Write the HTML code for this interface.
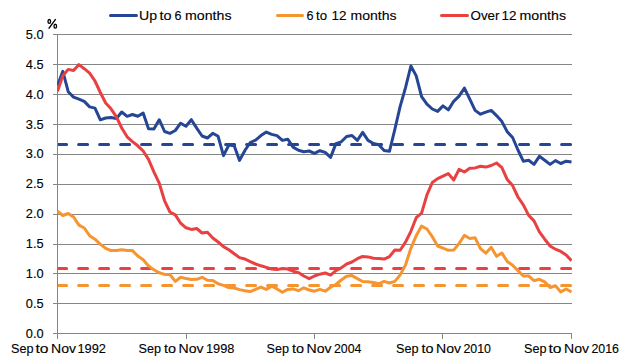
<!DOCTYPE html>
<html><head><meta charset="utf-8"><style>
html,body{margin:0;padding:0;background:#fff;width:622px;height:362px;overflow:hidden}
svg{display:block}
</style></head><body>
<svg width="622" height="362" viewBox="0 0 622 362">
<rect width="622" height="362" fill="#fff"/>
<line x1="53" y1="34.5" x2="572" y2="34.5" stroke="#868686" stroke-width="1"/>
<line x1="53" y1="64.5" x2="572" y2="64.5" stroke="#868686" stroke-width="1"/>
<line x1="53" y1="94.5" x2="572" y2="94.5" stroke="#868686" stroke-width="1"/>
<line x1="53" y1="124.5" x2="572" y2="124.5" stroke="#868686" stroke-width="1"/>
<line x1="53" y1="154.5" x2="572" y2="154.5" stroke="#868686" stroke-width="1"/>
<line x1="53" y1="184.5" x2="572" y2="184.5" stroke="#868686" stroke-width="1"/>
<line x1="53" y1="214.5" x2="572" y2="214.5" stroke="#868686" stroke-width="1"/>
<line x1="53" y1="244.5" x2="572" y2="244.5" stroke="#868686" stroke-width="1"/>
<line x1="53" y1="273.5" x2="572" y2="273.5" stroke="#868686" stroke-width="1"/>
<line x1="53" y1="303.5" x2="572" y2="303.5" stroke="#868686" stroke-width="1"/>
<line x1="53" y1="333.5" x2="572" y2="333.5" stroke="#868686" stroke-width="1"/>
<line x1="57.5" y1="34" x2="57.5" y2="339" stroke="#868686" stroke-width="1"/>
<line x1="57.5" y1="333" x2="57.5" y2="339" stroke="#868686" stroke-width="1"/>
<line x1="186.5" y1="333" x2="186.5" y2="339" stroke="#868686" stroke-width="1"/>
<line x1="314.5" y1="333" x2="314.5" y2="339" stroke="#868686" stroke-width="1"/>
<line x1="442.5" y1="333" x2="442.5" y2="339" stroke="#868686" stroke-width="1"/>
<line x1="571.5" y1="333" x2="571.5" y2="339" stroke="#868686" stroke-width="1"/>
<clipPath id="pc"><rect x="58" y="0" width="515" height="362"/></clipPath>
<line clip-path="url(#pc)" x1="57.6" y1="144.5" x2="572" y2="144.5" stroke="#254694" stroke-width="3" stroke-dasharray="9 12" stroke-linecap="round"/>
<line clip-path="url(#pc)" x1="57.6" y1="268.5" x2="572" y2="268.5" stroke="#E94042" stroke-width="3" stroke-dasharray="9 12" stroke-linecap="round"/>
<line clip-path="url(#pc)" x1="57.6" y1="285.5" x2="572" y2="285.5" stroke="#F69530" stroke-width="3" stroke-dasharray="9 12" stroke-linecap="round"/>
<clipPath id="pa"><rect x="57" y="0" width="514.9" height="362"/></clipPath>
<polyline clip-path="url(#pa)" points="57.50,85.5 62.85,71.3 68.21,91.7 73.56,97.1 78.92,99.2 84.27,101.4 89.62,106.9 94.98,108.1 100.33,119.8 105.69,118.0 111.04,117.5 116.40,118.5 121.75,112.0 127.10,116.3 132.46,114.5 137.81,116.2 143.17,113.1 148.52,128.8 153.88,129.0 159.23,119.7 164.58,131.5 169.94,133.3 175.29,130.5 180.65,123.2 186.00,126.2 191.35,119.7 196.71,128.1 202.06,136.0 207.42,138.0 212.77,133.3 218.12,136.3 223.48,155.6 228.83,145.0 234.19,145.7 239.54,160.4 244.90,150.5 250.25,142.5 255.60,140.1 260.96,135.6 266.31,132.1 271.67,134.4 277.02,135.6 282.38,140.4 287.73,139.2 293.08,147.1 298.44,150.3 303.79,151.7 309.15,151.0 314.50,153.3 319.85,150.7 325.21,152.4 330.56,157.4 335.92,143.6 341.27,141.8 346.62,136.5 351.98,135.5 357.33,140.4 362.69,132.4 368.04,140.4 373.40,143.5 378.75,144.8 384.10,150.6 389.46,151.3 394.81,129.5 400.17,106.3 405.52,87.7 410.88,66.0 416.23,75.9 421.58,96.6 426.94,104.2 432.29,109.0 437.65,111.4 443.00,105.9 448.35,109.9 453.71,101.3 459.06,96.2 464.42,88.1 469.77,99.2 475.12,110.4 480.48,114.2 485.83,112.1 491.19,110.4 496.54,115.6 501.90,121.6 507.25,131.7 512.60,137.5 517.96,150.0 523.31,161.2 528.67,160.2 534.02,164.4 539.38,156.3 544.73,160.2 550.08,164.4 555.44,160.6 560.79,163.5 566.15,161.2 571.50,162.1" fill="none" stroke="#254694" stroke-width="3" stroke-linejoin="round" stroke-linecap="butt"/>
<polyline clip-path="url(#pa)" points="57.50,211.2 62.85,215.5 68.21,213.5 73.56,217.0 78.92,225.1 84.27,228.0 89.62,235.7 94.98,239.2 100.33,244.4 105.69,248.3 111.04,250.6 116.40,250.6 121.75,249.7 127.10,250.6 132.46,250.6 137.81,256.0 143.17,259.8 148.52,265.9 153.88,269.8 159.23,272.8 164.58,274.4 169.94,274.6 175.29,281.4 180.65,277.3 186.00,278.6 191.35,279.4 196.71,279.3 202.06,277.3 207.42,280.2 212.77,280.5 218.12,283.8 223.48,285.4 228.83,287.6 234.19,288.0 239.54,289.6 244.90,290.7 250.25,291.6 255.60,289.4 260.96,287.1 266.31,289.4 271.67,286.2 277.02,288.9 282.38,292.3 287.73,289.4 293.08,288.9 298.44,290.7 303.79,287.8 309.15,290.0 314.50,291.2 319.85,289.4 325.21,291.2 330.56,287.2 335.92,284.5 341.27,280.0 346.62,276.2 351.98,275.6 357.33,278.6 362.69,281.5 368.04,281.8 373.40,282.5 378.75,283.8 384.10,281.4 389.46,283.0 394.81,281.4 400.17,274.9 405.52,265.0 410.88,248.3 416.23,235.7 421.58,226.1 426.94,229.0 432.29,236.7 437.65,246.0 443.00,248.2 448.35,250.3 453.71,250.1 459.06,243.5 464.42,235.4 469.77,238.5 475.12,237.8 480.48,248.7 485.83,253.2 491.19,247.3 496.54,256.3 501.90,253.0 507.25,261.5 512.60,265.2 517.96,270.6 523.31,276.0 528.67,276.0 534.02,280.6 539.38,279.3 544.73,281.9 550.08,287.5 555.44,285.8 560.79,291.9 566.15,289.0 571.50,291.9" fill="none" stroke="#F69530" stroke-width="3" stroke-linejoin="round" stroke-linecap="butt"/>
<polyline clip-path="url(#pa)" points="57.50,91.3 62.85,75.7 68.21,69.4 73.56,70.5 78.92,64.6 84.27,68.7 89.62,73.1 94.98,81.0 100.33,92.5 105.69,103.0 111.04,108.8 116.40,116.8 121.75,128.0 127.10,136.8 132.46,141.6 137.81,145.8 143.17,151.0 148.52,159.4 153.88,171.8 159.23,183.2 164.58,200.8 169.94,212.0 175.29,214.9 180.65,223.2 186.00,227.8 191.35,229.4 196.71,228.5 202.06,233.0 207.42,232.3 212.77,238.0 218.12,242.0 223.48,246.6 228.83,249.8 234.19,253.8 239.54,257.6 244.90,259.0 250.25,261.7 255.60,264.0 260.96,265.8 266.31,267.4 271.67,269.0 277.02,269.6 282.38,268.5 287.73,269.0 293.08,271.2 298.44,272.6 303.79,276.0 309.15,278.7 314.50,276.0 319.85,274.2 325.21,273.0 330.56,275.1 335.92,270.7 341.27,267.9 346.62,264.0 351.98,262.0 357.33,258.7 362.69,256.4 368.04,256.9 373.40,258.2 378.75,258.4 384.10,259.1 389.46,256.6 394.81,250.0 400.17,250.3 405.52,242.1 410.88,231.3 416.23,217.7 421.58,213.1 426.94,194.8 432.29,182.5 437.65,178.6 443.00,176.1 448.35,173.6 453.71,180.0 459.06,169.3 464.42,172.0 469.77,168.2 475.12,167.9 480.48,166.2 485.83,167.1 491.19,165.5 496.54,163.0 501.90,167.6 507.25,179.6 512.60,185.6 517.96,197.0 523.31,204.9 528.67,215.4 534.02,220.9 539.38,231.8 544.73,239.2 550.08,246.0 555.44,249.2 560.79,251.4 566.15,255.0 571.50,260.7" fill="none" stroke="#E94042" stroke-width="3" stroke-linejoin="round" stroke-linecap="butt"/>
<text x="43.6" y="38.80" text-anchor="end" textLength="17.8" lengthAdjust="spacingAndGlyphs" style="font-family:'Liberation Sans',sans-serif;font-size:12.8px" fill="#000" stroke="#000" stroke-width="0.12">5.0</text>
<text x="43.6" y="68.70" text-anchor="end" textLength="17.8" lengthAdjust="spacingAndGlyphs" style="font-family:'Liberation Sans',sans-serif;font-size:12.8px" fill="#000" stroke="#000" stroke-width="0.12">4.5</text>
<text x="43.6" y="98.60" text-anchor="end" textLength="17.8" lengthAdjust="spacingAndGlyphs" style="font-family:'Liberation Sans',sans-serif;font-size:12.8px" fill="#000" stroke="#000" stroke-width="0.12">4.0</text>
<text x="43.6" y="128.50" text-anchor="end" textLength="17.8" lengthAdjust="spacingAndGlyphs" style="font-family:'Liberation Sans',sans-serif;font-size:12.8px" fill="#000" stroke="#000" stroke-width="0.12">3.5</text>
<text x="43.6" y="158.40" text-anchor="end" textLength="17.8" lengthAdjust="spacingAndGlyphs" style="font-family:'Liberation Sans',sans-serif;font-size:12.8px" fill="#000" stroke="#000" stroke-width="0.12">3.0</text>
<text x="43.6" y="188.30" text-anchor="end" textLength="17.8" lengthAdjust="spacingAndGlyphs" style="font-family:'Liberation Sans',sans-serif;font-size:12.8px" fill="#000" stroke="#000" stroke-width="0.12">2.5</text>
<text x="43.6" y="218.20" text-anchor="end" textLength="17.8" lengthAdjust="spacingAndGlyphs" style="font-family:'Liberation Sans',sans-serif;font-size:12.8px" fill="#000" stroke="#000" stroke-width="0.12">2.0</text>
<text x="43.6" y="248.10" text-anchor="end" textLength="17.8" lengthAdjust="spacingAndGlyphs" style="font-family:'Liberation Sans',sans-serif;font-size:12.8px" fill="#000" stroke="#000" stroke-width="0.12">1.5</text>
<text x="43.6" y="278.00" text-anchor="end" textLength="17.8" lengthAdjust="spacingAndGlyphs" style="font-family:'Liberation Sans',sans-serif;font-size:12.8px" fill="#000" stroke="#000" stroke-width="0.12">1.0</text>
<text x="43.6" y="307.90" text-anchor="end" textLength="17.8" lengthAdjust="spacingAndGlyphs" style="font-family:'Liberation Sans',sans-serif;font-size:12.8px" fill="#000" stroke="#000" stroke-width="0.12">0.5</text>
<text x="43.6" y="337.80" text-anchor="end" textLength="17.8" lengthAdjust="spacingAndGlyphs" style="font-family:'Liberation Sans',sans-serif;font-size:12.8px" fill="#000" stroke="#000" stroke-width="0.12">0.0</text>
<g fill="none" stroke="#000" stroke-width="1.35"><ellipse cx="49.3" cy="21.4" rx="1.3" ry="1.9"/><ellipse cx="55.3" cy="26.2" rx="1.3" ry="1.95"/><line x1="55.7" y1="19.1" x2="48.7" y2="28.7" stroke-width="1.4"/></g>
<line x1="110.5" y1="15.5" x2="136.5" y2="15.5" stroke="#254694" stroke-width="3" stroke-linecap="round"/>
<line x1="277.5" y1="15.5" x2="302.5" y2="15.5" stroke="#F69530" stroke-width="3" stroke-linecap="round"/>
<line x1="441.5" y1="15.5" x2="467.5" y2="15.5" stroke="#E94042" stroke-width="3" stroke-linecap="round"/>
<text x="11.00" y="353" textLength="22.50" lengthAdjust="spacingAndGlyphs" style="font-family:'Liberation Sans',sans-serif;font-size:13px" fill="#000" stroke="#000" stroke-width="0.12">Sep</text>
<text x="35.50" y="353" textLength="13.00" lengthAdjust="spacingAndGlyphs" style="font-family:'Liberation Sans',sans-serif;font-size:13px" fill="#000" stroke="#000" stroke-width="0.12">to</text>
<text x="51.00" y="353" textLength="25.00" lengthAdjust="spacingAndGlyphs" style="font-family:'Liberation Sans',sans-serif;font-size:13px" fill="#000" stroke="#000" stroke-width="0.12">Nov</text>
<text x="77.50" y="353" textLength="28.50" lengthAdjust="spacingAndGlyphs" style="font-family:'Liberation Sans',sans-serif;font-size:13px" fill="#000" stroke="#000" stroke-width="0.12">1992</text>
<text x="138.50" y="353" textLength="22.50" lengthAdjust="spacingAndGlyphs" style="font-family:'Liberation Sans',sans-serif;font-size:13px" fill="#000" stroke="#000" stroke-width="0.12">Sep</text>
<text x="164.00" y="353" textLength="12.00" lengthAdjust="spacingAndGlyphs" style="font-family:'Liberation Sans',sans-serif;font-size:13px" fill="#000" stroke="#000" stroke-width="0.12">to</text>
<text x="178.50" y="353" textLength="25.00" lengthAdjust="spacingAndGlyphs" style="font-family:'Liberation Sans',sans-serif;font-size:13px" fill="#000" stroke="#000" stroke-width="0.12">Nov</text>
<text x="206.00" y="353" textLength="28.50" lengthAdjust="spacingAndGlyphs" style="font-family:'Liberation Sans',sans-serif;font-size:13px" fill="#000" stroke="#000" stroke-width="0.12">1998</text>
<text x="266.50" y="353" textLength="22.50" lengthAdjust="spacingAndGlyphs" style="font-family:'Liberation Sans',sans-serif;font-size:13px" fill="#000" stroke="#000" stroke-width="0.12">Sep</text>
<text x="292.00" y="353" textLength="12.00" lengthAdjust="spacingAndGlyphs" style="font-family:'Liberation Sans',sans-serif;font-size:13px" fill="#000" stroke="#000" stroke-width="0.12">to</text>
<text x="306.50" y="353" textLength="25.00" lengthAdjust="spacingAndGlyphs" style="font-family:'Liberation Sans',sans-serif;font-size:13px" fill="#000" stroke="#000" stroke-width="0.12">Nov</text>
<text x="334.00" y="353" textLength="27.50" lengthAdjust="spacingAndGlyphs" style="font-family:'Liberation Sans',sans-serif;font-size:13px" fill="#000" stroke="#000" stroke-width="0.12">2004</text>
<text x="396.00" y="353" textLength="22.50" lengthAdjust="spacingAndGlyphs" style="font-family:'Liberation Sans',sans-serif;font-size:13px" fill="#000" stroke="#000" stroke-width="0.12">Sep</text>
<text x="421.50" y="353" textLength="12.00" lengthAdjust="spacingAndGlyphs" style="font-family:'Liberation Sans',sans-serif;font-size:13px" fill="#000" stroke="#000" stroke-width="0.12">to</text>
<text x="436.00" y="353" textLength="25.00" lengthAdjust="spacingAndGlyphs" style="font-family:'Liberation Sans',sans-serif;font-size:13px" fill="#000" stroke="#000" stroke-width="0.12">Nov</text>
<text x="463.50" y="353" textLength="27.50" lengthAdjust="spacingAndGlyphs" style="font-family:'Liberation Sans',sans-serif;font-size:13px" fill="#000" stroke="#000" stroke-width="0.12">2010</text>
<text x="524.00" y="353" textLength="22.50" lengthAdjust="spacingAndGlyphs" style="font-family:'Liberation Sans',sans-serif;font-size:13px" fill="#000" stroke="#000" stroke-width="0.12">Sep</text>
<text x="548.50" y="353" textLength="13.00" lengthAdjust="spacingAndGlyphs" style="font-family:'Liberation Sans',sans-serif;font-size:13px" fill="#000" stroke="#000" stroke-width="0.12">to</text>
<text x="564.00" y="353" textLength="25.00" lengthAdjust="spacingAndGlyphs" style="font-family:'Liberation Sans',sans-serif;font-size:13px" fill="#000" stroke="#000" stroke-width="0.12">Nov</text>
<text x="591.50" y="353" textLength="27.50" lengthAdjust="spacingAndGlyphs" style="font-family:'Liberation Sans',sans-serif;font-size:13px" fill="#000" stroke="#000" stroke-width="0.12">2016</text>
<text x="139.00" y="19.8" textLength="18.00" lengthAdjust="spacingAndGlyphs" style="font-family:'Liberation Sans',sans-serif;font-size:13px" fill="#000" stroke="#000" stroke-width="0.12">Up</text>
<text x="159.50" y="19.8" textLength="12.00" lengthAdjust="spacingAndGlyphs" style="font-family:'Liberation Sans',sans-serif;font-size:13px" fill="#000" stroke="#000" stroke-width="0.12">to</text>
<text x="174.50" y="19.8" textLength="7.00" lengthAdjust="spacingAndGlyphs" style="font-family:'Liberation Sans',sans-serif;font-size:13px" fill="#000" stroke="#000" stroke-width="0.12">6</text>
<text x="185.00" y="19.8" textLength="46.50" lengthAdjust="spacingAndGlyphs" style="font-family:'Liberation Sans',sans-serif;font-size:13px" fill="#000" stroke="#000" stroke-width="0.12">months</text>
<text x="306.50" y="19.8" textLength="7.00" lengthAdjust="spacingAndGlyphs" style="font-family:'Liberation Sans',sans-serif;font-size:13px" fill="#000" stroke="#000" stroke-width="0.12">6</text>
<text x="316.00" y="19.8" textLength="11.00" lengthAdjust="spacingAndGlyphs" style="font-family:'Liberation Sans',sans-serif;font-size:13px" fill="#000" stroke="#000" stroke-width="0.12">to</text>
<text x="331.50" y="19.8" textLength="15.00" lengthAdjust="spacingAndGlyphs" style="font-family:'Liberation Sans',sans-serif;font-size:13px" fill="#000" stroke="#000" stroke-width="0.12">12</text>
<text x="350.50" y="19.8" textLength="46.00" lengthAdjust="spacingAndGlyphs" style="font-family:'Liberation Sans',sans-serif;font-size:13px" fill="#000" stroke="#000" stroke-width="0.12">months</text>
<text x="470.50" y="19.8" textLength="29.00" lengthAdjust="spacingAndGlyphs" style="font-family:'Liberation Sans',sans-serif;font-size:13px" fill="#000" stroke="#000" stroke-width="0.12">Over</text>
<text x="501.50" y="19.8" textLength="15.00" lengthAdjust="spacingAndGlyphs" style="font-family:'Liberation Sans',sans-serif;font-size:13px" fill="#000" stroke="#000" stroke-width="0.12">12</text>
<text x="519.50" y="19.8" textLength="46.50" lengthAdjust="spacingAndGlyphs" style="font-family:'Liberation Sans',sans-serif;font-size:13px" fill="#000" stroke="#000" stroke-width="0.12">months</text>
</svg>
</body></html>
